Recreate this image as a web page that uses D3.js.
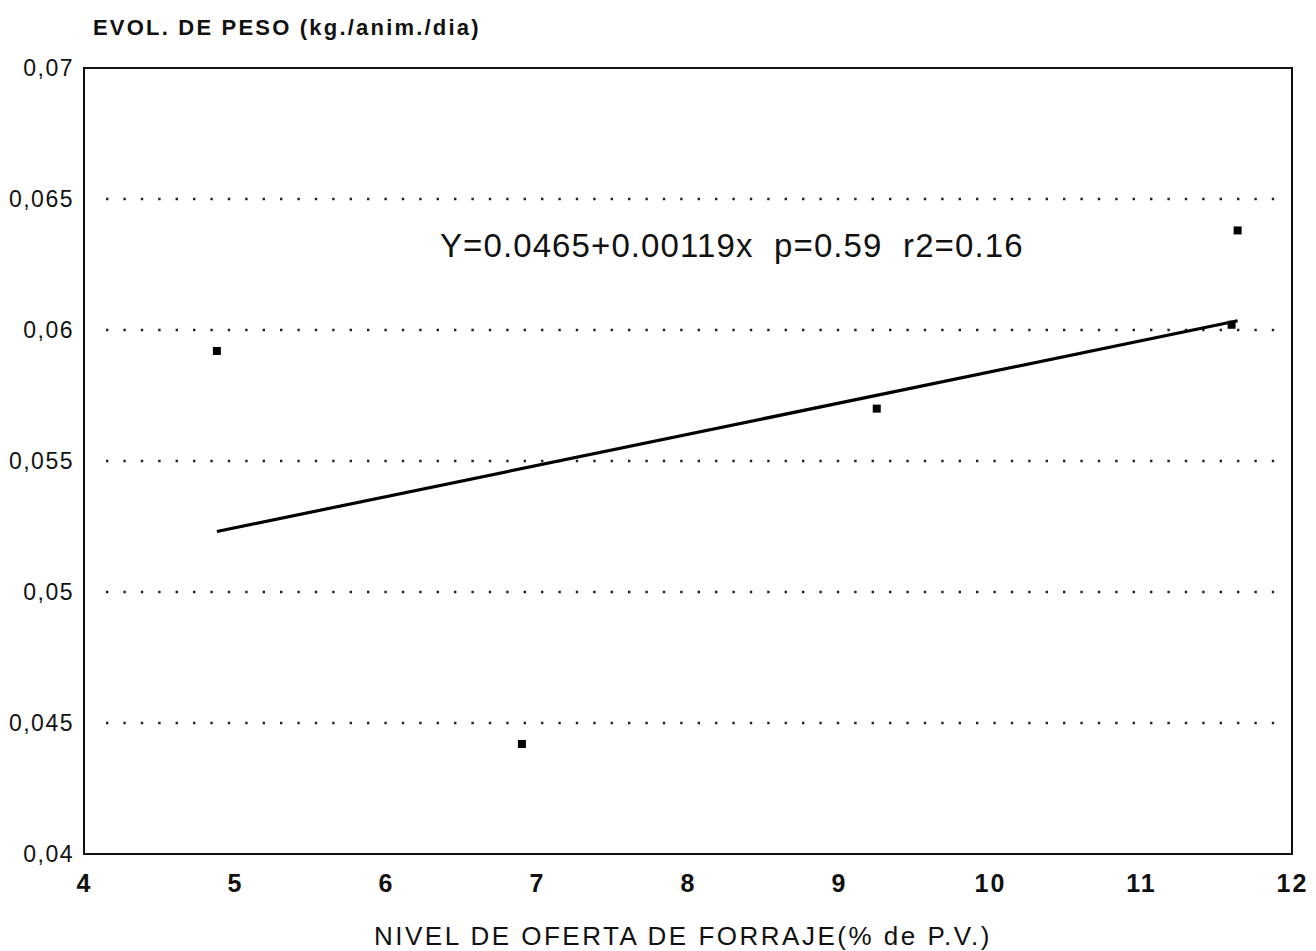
<!DOCTYPE html>
<html>
<head>
<meta charset="utf-8">
<script src="https://cdn.jsdelivr.net/npm/d3@7"></script>
<style>
  body { margin: 0; background: #fff; }
  text { font-family: "Liberation Sans", Arial, sans-serif; fill: #111; }
</style>
</head>
<body>
<svg id="chart" width="1316" height="951"></svg>
<script>
// data
const ofertaX = [4.88, 6.9, 9.25, 11.64, 11.6];
const pesoY = [0.0592, 0.0442, 0.0570, 0.0638, 0.0602];
const intercept = 0.0465;
const slope = 0.00119;
const xTicks = [4, 5, 6, 7, 8, 9, 10, 11, 12];
const yTicks = [0.04, 0.045, 0.05, 0.055, 0.06, 0.065, 0.07];
const gridTicks = [0.045, 0.05, 0.055, 0.06, 0.065];

const svg = d3.select("#chart");
const margin = { left: 84, right: 24, top: 68, bottom: 97 };
const width = 1316, height = 951;

const x = d3.scaleLinear().domain([4, 12]).range([margin.left, width - margin.right]);
const y = d3.scaleLinear().domain([0.04, 0.07]).range([height - margin.bottom, margin.top]);

const fmt = (d) => d3.format(",")(d).replace(".", ",");

// dotted grid
svg.append("g")
  .selectAll("line")
  .data(gridTicks)
  .enter()
  .append("line")
  .attr("x1", x(4) + 22)
  .attr("x2", x(12) - 4)
  .attr("y1", (d) => y(d))
  .attr("y2", (d) => y(d))
  .attr("stroke", "#222")
  .attr("stroke-width", 2.4)
  .attr("stroke-dasharray", "2.4 15");

// frame
svg.append("rect")
  .attr("x", x(4))
  .attr("y", y(0.07))
  .attr("width", x(12) - x(4))
  .attr("height", y(0.04) - y(0.07))
  .attr("fill", "none")
  .attr("stroke", "#111")
  .attr("stroke-width", 2);

// y axis labels
const yAxis = svg.append("g")
  .attr("transform", "translate(" + x(4) + ",0)")
  .call(d3.axisLeft(y).tickValues(yTicks).tickSize(0).tickPadding(10).tickFormat(fmt));
yAxis.select(".domain").remove();
yAxis.selectAll("text")
  .style("font-size", "23px")
  .style("letter-spacing", "1.5px")
  .attr("fill", "#111");

// x axis labels
const xAxis = svg.append("g")
  .attr("transform", "translate(0," + y(0.04) + ")")
  .call(d3.axisBottom(x).tickValues(xTicks).tickSize(0).tickPadding(20).tickFormat(d3.format("d")));
xAxis.select(".domain").remove();
xAxis.selectAll("text")
  .style("font-size", "25px")
  .style("font-weight", "bold")
  .style("letter-spacing", "2px")
  .attr("fill", "#111");

// regression line across the observed range
const xMin = d3.min(ofertaX), xMax = d3.max(ofertaX);
svg.append("line")
  .attr("x1", x(xMin))
  .attr("y1", y(intercept + slope * xMin))
  .attr("x2", x(xMax))
  .attr("y2", y(intercept + slope * xMax))
  .attr("stroke", "#000")
  .attr("stroke-width", 3.2);

// points
svg.append("g")
  .selectAll("rect")
  .data(ofertaX.map((d, i) => [d, pesoY[i]]))
  .enter()
  .append("rect")
  .attr("x", (d) => x(d[0]) - 4)
  .attr("y", (d) => y(d[1]) - 4)
  .attr("width", 8)
  .attr("height", 8)
  .attr("fill", "#000");

// texts
svg.append("text")
  .attr("x", 93)
  .attr("y", 35)
  .style("font-size", "22px")
  .style("font-weight", "bold")
  .style("letter-spacing", "2.2px")
  .text("EVOL. DE PESO (kg./anim./dia)");

svg.append("text")
  .attr("x", 440)
  .attr("y", 257)
  .style("font-size", "33px")
  .style("letter-spacing", "1.1px")
  .attr("xml:space", "preserve")
  .text("Y=0.0465+0.00119x  p=0.59  r2=0.16");

svg.append("text")
  .attr("x", (x(4) + x(12)) / 2 - 5)
  .attr("y", 945)
  .attr("text-anchor", "middle")
  .style("font-size", "26px")
  .style("letter-spacing", "2.5px")
  .text("NIVEL DE OFERTA DE FORRAJE(% de P.V.)");
</script>
</body>
</html>
